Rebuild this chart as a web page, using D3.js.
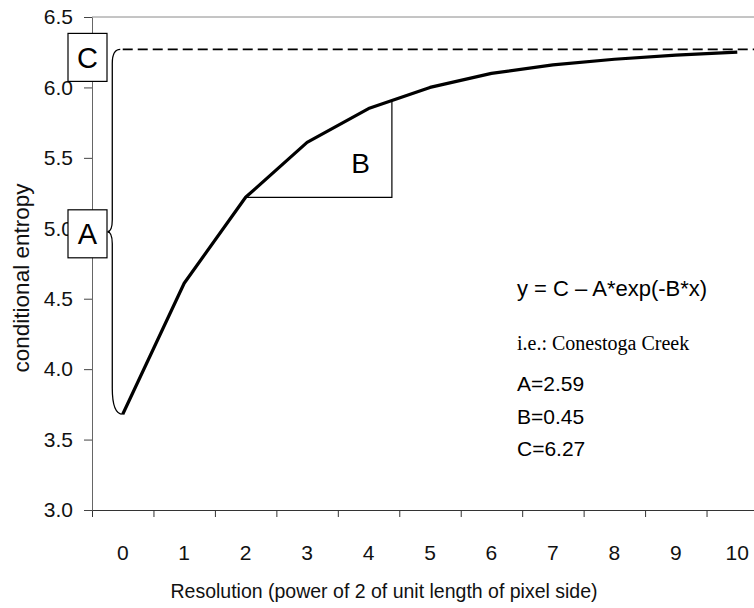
<!DOCTYPE html>
<html>
<head>
<meta charset="utf-8">
<script src="https://cdn.jsdelivr.net/npm/d3@7"></script>
<style>
  html, body { margin: 0; padding: 0; background: #fff; }
  svg { display: block; font-family: "Liberation Sans", Arial, sans-serif; }
</style>
</head>
<body>
<svg id="chart" width="754" height="608"></svg>
<script>
// values
const resolution = [0, 1, 2, 3, 4, 5, 6, 7, 8, 9, 10];
const entropy = [3.68, 4.61, 5.22, 5.61, 5.85, 6.0, 6.1, 6.16, 6.2, 6.23, 6.25];
const yTicks = [3.0, 3.5, 4.0, 4.5, 5.0, 5.5, 6.0, 6.5];
const fitParams = [
  { name: "A", value: "2.59" },
  { name: "B", value: "0.45" },
  { name: "C", value: "6.27" },
];
const asymptote = 6.27;
const triangleRightX = 4.38;

const plot = { left: 92, right: 768, top: 17, bottom: 510 };

const svg = d3.select("#chart");

const x = d3.scaleLinear().domain([-0.5, 10.5]).range([plot.left, plot.right]);
const y = d3.scaleLinear().domain([3.0, 6.5]).range([plot.bottom, plot.top]);

// top frame line
svg.append("line")
  .attr("x1", plot.left).attr("x2", plot.right)
  .attr("y1", plot.top).attr("y2", plot.top)
  .attr("stroke", "#8a8a8a").attr("stroke-width", 1);

const xAxis = svg.append("g")
  .attr("transform", `translate(0,${plot.bottom})`)
  .call(d3.axisBottom(x).tickValues(d3.range(-0.5, 11, 1)).tickFormat("").tickSize(7).tickSizeOuter(0));
xAxis.select(".domain").attr("stroke", "#333").attr("stroke-width", 1.2);
xAxis.selectAll(".tick line").attr("stroke", "#333");

svg.append("g")
  .selectAll("text")
  .data(resolution)
  .join("text")
  .attr("x", (d) => x(d))
  .attr("y", 560)
  .attr("text-anchor", "middle")
  .attr("font-size", 21)
  .attr("fill", "#111")
  .text((d) => d);

const yAxis = svg.append("g")
  .attr("transform", `translate(${plot.left},0)`)
  .call(d3.axisLeft(y).tickValues(yTicks).tickFormat(d3.format(".1f")).tickSize(8).tickPadding(11).tickSizeOuter(0));
yAxis.select(".domain").attr("stroke", "#666").attr("stroke-width", 1);
yAxis.selectAll(".tick line").attr("stroke", "#444");
yAxis.selectAll(".tick text").attr("font-size", 21).attr("fill", "#111").attr("font-family", "Liberation Sans, Arial, sans-serif");

svg.append("text")
  .attr("transform", "translate(29,278) rotate(-90)")
  .attr("text-anchor", "middle")
  .attr("font-size", 22.5)
  .attr("fill", "#111")
  .text("conditional entropy");

svg.append("text")
  .attr("x", 384)
  .attr("y", 598)
  .attr("text-anchor", "middle")
  .attr("font-size", 19.5)
  .attr("fill", "#111")
  .text("Resolution (power of 2 of unit length of pixel side)");

// asymptote C
svg.append("line")
  .attr("x1", x(0)).attr("x2", plot.right)
  .attr("y1", y(asymptote)).attr("y2", y(asymptote))
  .attr("stroke", "#000").attr("stroke-width", 1.6)
  .attr("stroke-dasharray", "10,5");

// triangle for B
const interp = d3.scaleLinear().domain(resolution).range(entropy);
const base = entropy[2];
svg.append("path")
  .attr("d", `M${x(resolution[2])},${y(base)}H${x(triangleRightX)}V${y(interp(triangleRightX))}`)
  .attr("fill", "none")
  .attr("stroke", "#000")
  .attr("stroke-width", 1.2);

svg.append("text")
  .attr("x", x(3.87))
  .attr("y", y(5.39))
  .attr("text-anchor", "middle")
  .attr("font-size", 28)
  .text("B");

// brace from asymptote down to first point
const braceTop = y(asymptote);
const braceBottom = y(entropy[0]);
const braceMid = (braceTop + braceBottom) / 2;
const xv = x(-0.17);
const xc = x(-0.25);
svg.append("path")
  .attr("d", [
    `M${x(-0.04)},${braceTop}`,
    `Q${xv},${braceTop} ${xv},${braceTop + 14}`,
    `L${xv},${braceMid - 12}`,
    `Q${xv},${braceMid} ${xc},${braceMid}`,
    `Q${xv},${braceMid} ${xv},${braceMid + 12}`,
    `L${xv},${braceBottom - 26}`,
    `Q${xv},${braceBottom} ${x(0)},${braceBottom}`,
  ].join(""))
  .attr("fill", "none")
  .attr("stroke", "#000")
  .attr("stroke-width", 1.3);

// fitted curve
const line = d3.line().x((d, i) => x(resolution[i])).y((d) => y(d));
svg.append("path")
  .datum(entropy)
  .attr("d", line)
  .attr("fill", "none")
  .attr("stroke", "#000")
  .attr("stroke-width", 3.2)
  .attr("stroke-linejoin", "round");

// letter boxes
const boxW = 39;
const boxH = 48;
[
  { label: "C", cy: braceTop + 8 },
  { label: "A", cy: braceMid + 2 },
].forEach((item) => {
  const g = svg.append("g").attr("transform", `translate(${plot.left - 4.5},${item.cy})`);
  g.append("rect")
    .attr("x", -boxW / 2).attr("y", -boxH / 2)
    .attr("width", boxW).attr("height", boxH)
    .attr("fill", "#fff").attr("stroke", "#000").attr("stroke-width", 1.2);
  g.append("text")
    .attr("text-anchor", "middle")
    .attr("dy", "0.36em")
    .attr("font-size", 29)
    .text(item.label);
});

// fit annotation
const notes = svg.append("g").attr("transform", "translate(517,0)");
notes.append("text").attr("y", 296).attr("font-size", 22).text("y = C \u2013 A*exp(-B*x)");
notes.append("text").attr("y", 350).attr("font-size", 20)
  .attr("font-family", "Liberation Serif, Times New Roman, serif")
  .text("i.e.: Conestoga Creek");
notes.selectAll(".param")
  .data(fitParams)
  .join("text")
  .attr("class", "param")
  .attr("y", (d, i) => 391 + i * 32.5)
  .attr("font-size", 21)
  .text((d) => `${d.name}=${d.value}`);
</script>
</body>
</html>
